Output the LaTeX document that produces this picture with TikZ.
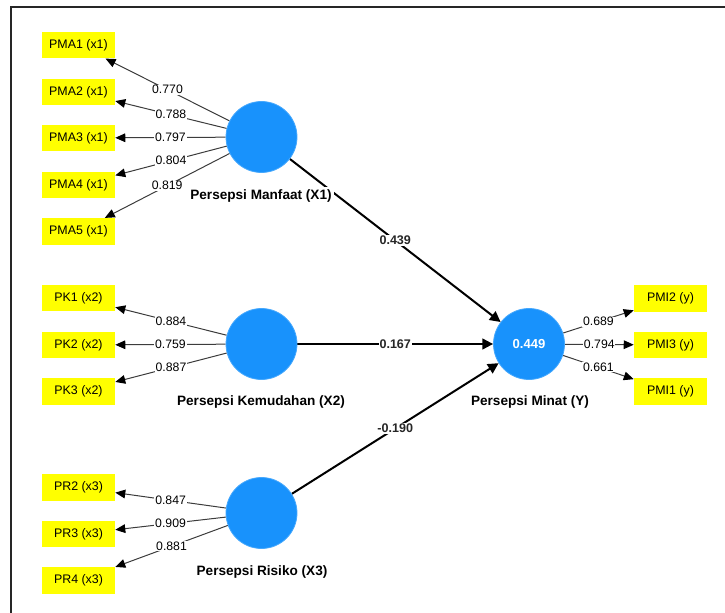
\documentclass[tikz,border=0pt]{standalone}
\usepackage{fontspec}
\setmainfont{Liberation Sans}
\usetikzlibrary{arrows.meta}
\pgfdeclarelayer{edges}
\pgfsetlayers{edges,main}
\definecolor{lvblue}{RGB}{24,146,252}
\definecolor{mvyellow}{RGB}{255,255,0}
\definecolor{loadgray}{RGB}{60,60,60}
\tikzset{
  lv/.style={circle, fill=lvblue, draw=lvblue!80!white, line width=0.6pt, minimum size=53.25pt, inner sep=0pt},
  mv/.style={rectangle, fill=mvyellow, minimum width=54.75pt, minimum height=20pt, inner sep=0pt, font=\fontsize{9.3}{11}\selectfont},
  lvlabel/.style={fill=white, inner sep=2pt, font=\fontsize{10.2}{12}\selectfont\bfseries},
  load/.style={draw=loadgray, line width=0.75pt, -{Triangle[length=7.5pt,width=6.5pt,fill=black,color=black]}},
  path/.style={draw=black, line width=1.5pt, -{Triangle[length=8pt,width=8pt]}},
  loadlab/.style={midway, fill=white, inner sep=0.6pt, font=\fontsize{9.2}{10}\selectfont},
  pathlab/.style={midway, fill=white, inner sep=0.6pt, font=\fontsize{9.4}{10}\selectfont\bfseries, text=black!85},
}
\begin{document}
\begin{tikzpicture}[x=0.75pt, y=-0.75pt]
\useasboundingbox (0,0) rectangle (725,613);
\draw[line width=1.5pt, black!85] (11,613) -- (11,7) -- (725,7);

% latent variables
\node[lv] (X1) at (261.5,137) {};
\node[lv] (X2) at (261.5,344) {};
\node[lv] (X3) at (261.5,513) {};
\node[lv, font=\fontsize{9.8}{11}\selectfont\bfseries, text=white] (Y) at (529,344) {0.449};

% latent labels
\node[lvlabel] (X1lab) at (261,196) {Persepsi Manfaat (X1)};
\node[lvlabel] (X2lab) at (261,402) {Persepsi Kemudahan (X2)};
\node[lvlabel] (X3lab) at (262,572) {Persepsi Risiko (X3)};
\node[lvlabel] (Ylab) at (530,402) {Persepsi Minat (Y)};

% indicators
\node[mv] (PMA1) at (78.5,45) {PMA1 (x1)};
\node[mv] (PMA2) at (78.5,92) {PMA2 (x1)};
\node[mv] (PMA3) at (78.5,138) {PMA3 (x1)};
\node[mv] (PMA4) at (78.5,185) {PMA4 (x1)};
\node[mv] (PMA5) at (78.5,231.5) {PMA5 (x1)};
\node[mv] (PK1) at (78.5,298) {PK1 (x2)};
\node[mv] (PK2) at (78.5,345) {PK2 (x2)};
\node[mv] (PK3) at (78.5,391.5) {PK3 (x2)};
\node[mv] (PR2) at (78.5,487.5) {PR2 (x3)};
\node[mv] (PR3) at (78.5,534) {PR3 (x3)};
\node[mv] (PR4) at (78.5,580.5) {PR4 (x3)};
\node[mv] (PMI2) at (670.5,298.5) {PMI2 (y)};
\node[mv] (PMI3) at (670.5,345) {PMI3 (y)};
\node[mv] (PMI1) at (670.5,391.5) {PMI1 (y)};

\begin{pgfonlayer}{edges}
% outer loadings
\draw[load] (X1) -- node[loadlab] {0.770} (PMA1);
\draw[load] (X1) -- node[loadlab] {0.788} (PMA2);
\draw[load] (X1) -- node[loadlab] {0.797} (PMA3);
\draw[load] (X1) -- node[loadlab] {0.804} (PMA4);
\draw[load] (X1) -- node[loadlab] {0.819} (PMA5);
\draw[load] (X2) -- node[loadlab] {0.884} (PK1);
\draw[load] (X2) -- node[loadlab] {0.759} (PK2);
\draw[load] (X2) -- node[loadlab] {0.887} (PK3);
\draw[load] (X3) -- node[loadlab] {0.847} (PR2);
\draw[load] (X3) -- node[loadlab] {0.909} (PR3);
\draw[load] (X3) -- node[loadlab] {0.881} (PR4);
\draw[load] (Y) -- node[loadlab] {0.689} (PMI2);
\draw[load] (Y) -- node[loadlab] {0.794} (PMI3);
\draw[load] (Y) -- node[loadlab] {0.661} (PMI1);
% structural paths
\draw[path] (X1) -- node[pathlab] {0.439} (Y);
\draw[path] (X2) -- node[pathlab] {0.167} (Y);
\draw[path] (X3) -- node[pathlab] {-0.190} (Y);
\end{pgfonlayer}
\end{tikzpicture}
\end{document}
